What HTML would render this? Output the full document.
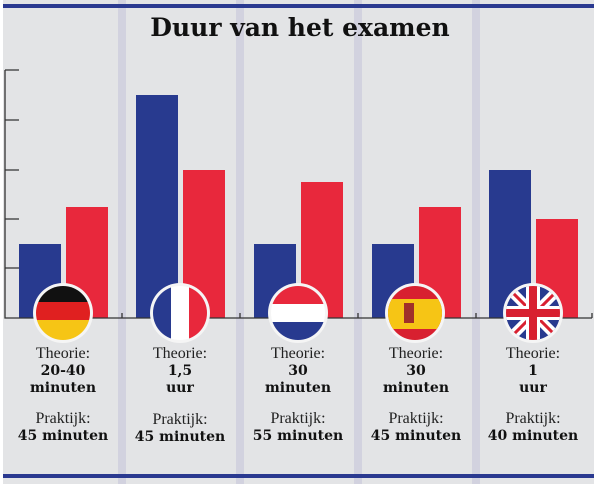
<!DOCTYPE html>
<html><head><style>
body{margin:0;width:600px;height:484px;background:#fff;overflow:hidden;position:relative;font-family:"DejaVu Serif","Liberation Serif",serif}
.a{position:absolute}
.t{position:absolute;width:118px;text-align:center;color:#222}
.n{font-family:"Liberation Serif",serif;font-size:16px}
.b{font-family:"DejaVu Serif",serif;font-weight:bold;font-size:14px;color:#111}
</style></head><body>
<div class="a" style="left:3px;top:0;width:591px;height:484px;background:#e3e4e6"></div>
<div class="a" style="left:118px;top:0;width:8px;height:484px;background:#d2d2df"></div>
<div class="a" style="left:236px;top:0;width:8px;height:484px;background:#d2d2df"></div>
<div class="a" style="left:354px;top:0;width:8px;height:484px;background:#d2d2df"></div>
<div class="a" style="left:472px;top:0;width:8px;height:484px;background:#d2d2df"></div>
<div class="a" style="left:3px;top:4px;width:591px;height:4px;background:#2a3990"></div>
<div class="a" style="left:3px;top:474px;width:591px;height:4px;background:#2a3990"></div>
<div class="a" style="left:0;top:13px;width:600px;text-align:center;font-family:'DejaVu Serif',serif;font-weight:bold;font-size:25px;color:#111">Duur van het examen</div>
<svg class="a" style="left:0;top:0" width="600" height="484">
<g fill="#283a8f">
<rect x="19" y="244" width="42" height="74"/><rect x="136" y="95" width="42" height="223"/><rect x="254" y="244" width="42" height="74"/><rect x="372" y="244" width="42" height="74"/><rect x="489" y="170" width="42" height="148"/></g>
<g fill="#e8283c">
<rect x="66" y="207" width="42" height="111"/><rect x="183" y="170" width="42" height="148"/><rect x="301" y="182" width="42" height="136"/><rect x="419" y="207" width="42" height="111"/><rect x="536" y="219" width="42" height="99"/></g>
<g stroke="#333" stroke-width="1.3" fill="none">
<path d="M5 70V318H592M5 70H19M5 120H19M5 170H19M5 219H19M5 268H19M122 318V313M240 318V313M358 318V313M476 318V313M592 318V313"/></g>
<defs>
<clipPath id="c1"><circle cx="63" cy="313" r="27"/></clipPath>
<clipPath id="c2"><circle cx="180" cy="313" r="27"/></clipPath>
<clipPath id="c3"><circle cx="298" cy="313" r="27"/></clipPath>
<clipPath id="c4"><circle cx="415" cy="313" r="27"/></clipPath>
<clipPath id="c5"><circle cx="533" cy="313" r="27"/></clipPath>
</defs>
<g fill="#f5f5f5"><circle cx="63" cy="313" r="30"/><circle cx="180" cy="313" r="30"/><circle cx="298" cy="313" r="30"/><circle cx="415" cy="313" r="30"/><circle cx="533" cy="313" r="30"/></g>
<g clip-path="url(#c1)"><rect x="30" y="280" width="66" height="22" fill="#111"/><rect x="30" y="302" width="66" height="18" fill="#e02020"/><rect x="30" y="320" width="66" height="30" fill="#f6c515"/></g>
<g clip-path="url(#c2)"><rect x="150" y="280" width="21" height="66" fill="#283a8f"/><rect x="171" y="280" width="18" height="66" fill="#fff"/><rect x="189" y="280" width="25" height="66" fill="#e8283c"/></g>
<g clip-path="url(#c3)"><rect x="268" y="280" width="66" height="24" fill="#e8283c"/><rect x="268" y="304" width="66" height="18" fill="#fff"/><rect x="268" y="322" width="66" height="30" fill="#283a8f"/></g>
<g clip-path="url(#c4)"><rect x="385" y="280" width="66" height="66" fill="#d82030"/><rect x="385" y="299" width="66" height="30" fill="#f6c515"/><rect x="404" y="303" width="10" height="20" fill="#a0302a"/></g>
<g clip-path="url(#c5)"><rect x="503" y="283" width="62" height="62" fill="#283a8f"/>
<path d="M503 283L565 345M565 283L503 345" stroke="#fff" stroke-width="10"/>
<path d="M503 283L565 345M565 283L503 345" stroke="#d82030" stroke-width="3"/>
<path d="M533 280V346M500 313H566" stroke="#fff" stroke-width="14"/>
<path d="M533 280V346M500 313H566" stroke="#d82030" stroke-width="8"/></g>
</svg>
<div class="t n" style="left:4px;top:345px">Theorie:</div>
<div class="t b" style="left:4px;top:363px;line-height:17px">20-40<br>minuten</div>
<div class="t n" style="left:4px;top:410px">Praktijk:</div>
<div class="t b" style="left:4px;top:428px">45 minuten</div>
<div class="t n" style="left:121px;top:345px">Theorie:</div>
<div class="t b" style="left:121px;top:363px;line-height:17px">1,5<br>uur</div>
<div class="t n" style="left:121px;top:411px">Praktijk:</div>
<div class="t b" style="left:121px;top:429px">45 minuten</div>
<div class="t n" style="left:239px;top:345px">Theorie:</div>
<div class="t b" style="left:239px;top:363px;line-height:17px">30<br>minuten</div>
<div class="t n" style="left:239px;top:410px">Praktijk:</div>
<div class="t b" style="left:239px;top:428px">55 minuten</div>
<div class="t n" style="left:357px;top:345px">Theorie:</div>
<div class="t b" style="left:357px;top:363px;line-height:17px">30<br>minuten</div>
<div class="t n" style="left:357px;top:410px">Praktijk:</div>
<div class="t b" style="left:357px;top:428px">45 minuten</div>
<div class="t n" style="left:474px;top:345px">Theorie:</div>
<div class="t b" style="left:474px;top:363px;line-height:17px">1<br>uur</div>
<div class="t n" style="left:474px;top:410px">Praktijk:</div>
<div class="t b" style="left:474px;top:428px">40 minuten</div>
</body></html>
